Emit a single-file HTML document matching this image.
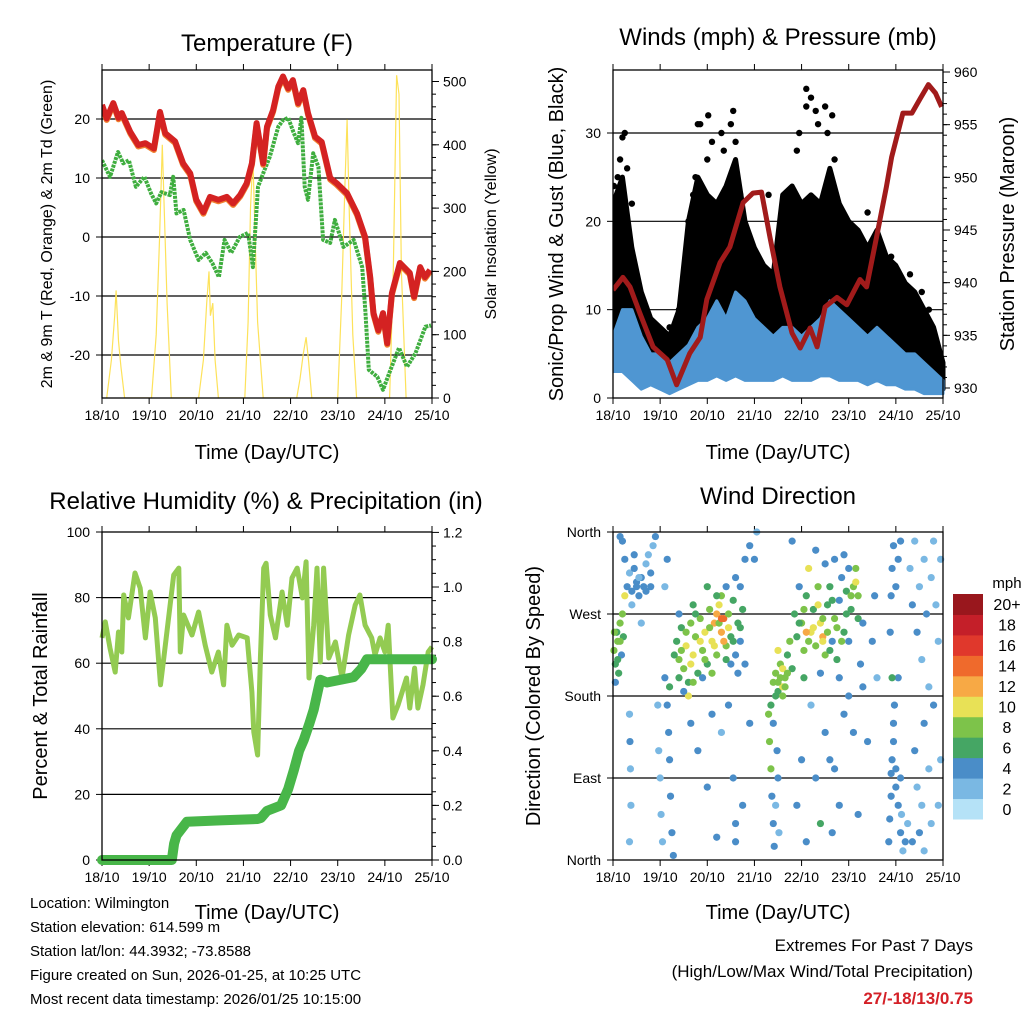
<!DOCTYPE html>
<html><head><meta charset="utf-8"><style>
body{margin:0;background:#fff;}
svg{display:block;font-family:"Liberation Sans",Arial,sans-serif;}
</style></head><body>
<svg id="s" width="1024" height="1024" viewBox="0 0 1024 1024" xmlns="http://www.w3.org/2000/svg">
<text x="267" y="51" font-size="24" text-anchor="middle">Temperature (F)</text>
<text x="778" y="45" font-size="24" text-anchor="middle">Winds (mph) &amp; Pressure (mb)</text>
<text x="266" y="509" font-size="24" text-anchor="middle">Relative Humidity (%) &amp; Precipitation (in)</text>
<text x="778" y="504" font-size="24" text-anchor="middle">Wind Direction</text>
<text x="267" y="459" font-size="20" text-anchor="middle">Time (Day/UTC)</text>
<text x="778" y="459" font-size="20" text-anchor="middle">Time (Day/UTC)</text>
<text x="267" y="919" font-size="20" text-anchor="middle">Time (Day/UTC)</text>
<text x="778" y="919" font-size="20" text-anchor="middle">Time (Day/UTC)</text>
<text transform="translate(52,234) rotate(-90)" font-size="16" text-anchor="middle">2m &amp; 9m T (Red, Orange) &amp; 2m Td (Green)</text>
<text transform="translate(496,234) rotate(-90)" font-size="16" text-anchor="middle">Solar Insolation (Yellow)</text>
<text transform="translate(563,234) rotate(-90)" font-size="20" text-anchor="middle">Sonic/Prop Wind &amp; Gust (Blue, Black)</text>
<text transform="translate(1014,234) rotate(-90)" font-size="20" text-anchor="middle">Station Pressure (Maroon)</text>
<text transform="translate(47,696) rotate(-90)" font-size="20" text-anchor="middle">Percent &amp; Total Rainfall</text>
<text transform="translate(540,696) rotate(-90)" font-size="20" text-anchor="middle">Direction (Colored By Speed)</text>
<g font-size="15">
<text x="30" y="908">Location: Wilmington</text>
<text x="30" y="932">Station elevation: 614.599 m</text>
<text x="30" y="956">Station lat/lon: 44.3932; -73.8588</text>
<text x="30" y="980">Figure created on Sun, 2026-01-25, at 10:25 UTC</text>
<text x="30" y="1004">Most recent data timestamp: 2026/01/25 10:15:00</text>
</g>
<g font-size="17" text-anchor="end">
<text x="973" y="951">Extremes For Past 7 Days</text>
<text x="973" y="977">(High/Low/Max Wind/Total Precipitation)</text>
<text x="973" y="1004" fill="#d42027" font-weight="bold">27/-18/13/0.75</text>
</g>
</svg>
<script>
// ---------- DATA ----------
const dayLabels=["18/10","19/10","20/10","21/10","22/10","23/10","24/10","25/10"];
const tempT=[0,0.1,0.24,0.35,0.42,0.6,0.77,0.92,1.1,1.23,1.34,1.55,1.72,1.87,2.0,2.15,2.29,2.47,2.65,2.78,2.93,3.07,3.18,3.28,3.42,3.5,3.63,3.74,3.84,3.95,4.05,4.16,4.27,4.37,4.52,4.66,4.84,4.98,5.2,5.41,5.58,5.69,5.76,5.86,5.96,6.05,6.15,6.32,6.53,6.62,6.75,6.85,6.96];
const tempV=[22.4,20.1,22.7,20.2,21,17.8,15.6,15.9,15,21.2,17.6,16.2,12.5,10.8,6.3,4.2,6.8,6.3,6.8,5.7,7.1,9.1,12.5,19.3,12.5,18.7,21.5,25.5,27.2,25.2,26.6,22.7,24.9,21,17,16.1,10,9.1,7.4,4,0,-6.8,-12.9,-15.8,-12.9,-18,-9.5,-4.4,-6.1,-10.1,-5.1,-6.8,-5.6];
const dewT=[0,0.17,0.34,0.45,0.57,0.72,0.9,1.04,1.15,1.26,1.44,1.51,1.58,1.73,1.87,2.05,2.2,2.34,2.48,2.6,2.74,2.92,3.1,3.2,3.31,3.45,3.56,3.74,3.84,3.95,4.06,4.16,4.23,4.3,4.37,4.48,4.59,4.69,4.84,4.94,5.12,5.34,5.52,5.59,5.66,5.84,5.96,6.12,6.3,6.47,6.65,6.86,6.98];
const dewV=[13,10.2,14.4,12.5,13,8.5,10.2,7.4,5.7,7.6,7.1,10.2,4,4.6,-0.5,-3.9,-2.7,-4.4,-6.8,-0.5,-2.7,0,0.7,-5.1,8.5,11.4,13.6,18.7,19.8,20.2,17.8,15.9,20.2,8.5,6.3,14.2,11.9,-0.5,-1,2.9,-1.7,-0.5,-5.1,-12.9,-22.5,-23.7,-25.9,-22.5,-18.8,-22,-19.7,-15.2,-15];
const solarT=[0.1,0.2,0.27,0.3,0.35,0.4,0.48, 1.05,1.15,1.22,1.28,1.32,1.38,1.47, 2.05,2.15,2.22,2.27,2.3,2.35,2.4,2.47, 3.03,3.1,3.15,3.2,3.25,3.3,3.42, 4.13,4.2,4.27,4.33,4.38,4.45, 5.0,5.08,5.15,5.2,5.25,5.32,5.4, 6.1,6.18,6.25,6.3,6.35,6.45];
const solarV=[0,60,130,170,90,50,0, 0,100,250,400,300,150,0, 0,60,150,200,130,150,60,0, 0,120,300,380,250,120,0, 0,30,70,96,60,0, 0,150,330,440,280,100,0, 0,200,510,480,200,0];
const windT=[0,0.2,0.4,0.6,0.8,1.0,1.2,1.4,1.6,1.8,2.0,2.2,2.4,2.6,2.8,3.0,3.2,3.4,3.6,3.8,4.0,4.2,4.4,4.6,4.8,5.0,5.2,5.4,5.6,5.8,6.0,6.2,6.4,6.6,6.8,7.0];
const windHigh=[7,10,10,7,5,5,4,5,6,8,9,11,9,12,11,9,8,7,8,8,7,8,9,11,10,9,8,7,8,7,6,5,5,4,3,2];
const windLow=[3,3,2,1,1.5,1,0.5,1,1.5,2,2,2.5,2,2.5,2,2,2,2,2.5,2,2,2,2.5,2.5,2,2,2,1.5,2,1.5,1.5,1,1,0.5,0.5,0.5];
const gustHigh=[22,25,17,12,9,8,7,10,20,25,23,22,24,27,20,17,15,14,23,24,22,23,22,26,22,20,19,17,19,16,15,13,12,10,8,4];
const gustDotT=[0.05,0.1,0.15,0.2,0.25,0.3,1.2,1.4,1.45,1.7,1.75,1.8,1.85,2.0,2.1,2.3,2.35,2.5,2.55,2.6,2.7,3.3,3.9,4.1,4.1,4.2,4.3,4.35,4.5,4.65,4.7,5.4,5.6,5.9,6.3,6.55,6.7,0.02,0.4,1.6,2.02,3.95,4.55];
const gustDotV=[20,25,27,29.5,30,26,8,10,11,23,25,31,31,27,29,30,28,31,32.5,29,23,23,28,35,33,34,32.5,31,33,32,27,21,18,16,14,12,10,24,22,20,32,30,30];
const presT=[0,0.21,0.36,0.57,0.85,1.15,1.35,1.63,1.85,1.99,2.27,2.48,2.76,2.97,3.15,3.33,3.54,3.8,3.97,4.18,4.33,4.5,4.75,4.96,5.24,5.38,5.59,5.8,5.91,6.15,6.34,6.52,6.69,6.84,6.97];
const presV=[939.3,940.5,939.6,937.1,933.9,932.7,930.3,933.3,934.8,938.4,941.9,943.4,947.6,948.5,948.6,944.3,939.6,935.2,933.8,935.7,933.9,937.7,938.6,937.9,940.3,939.6,944.3,949.1,951.9,956.1,956.1,957.5,958.8,958,956.7];
const rhT=[0,0.07,0.17,0.28,0.35,0.42,0.46,0.56,0.7,0.81,0.92,1.02,1.13,1.24,1.31,1.52,1.63,1.66,1.73,1.91,2.05,2.19,2.33,2.47,2.58,2.65,2.76,2.9,3.08,3.18,3.22,3.3,3.36,3.43,3.48,3.57,3.68,3.82,3.93,4.03,4.14,4.25,4.33,4.39,4.49,4.56,4.63,4.7,4.81,4.95,5.09,5.23,5.37,5.47,5.58,5.72,5.79,5.9,6.0,6.07,6.17,6.28,6.46,6.53,6.63,6.7,6.81,6.92,7.0];
const rhV=[67.7,72.6,64.6,57.3,69.5,63.4,80.8,73.8,87.5,82.9,67.7,81.7,73.8,53.4,61.6,86.9,89,63.4,74.7,68.6,75.6,65.5,57.3,63.4,53.4,71.6,65.5,68.6,67.7,51.2,39,32,61.6,89,90.5,74.7,67.7,81.7,71.6,86,89,79.9,90.9,55.5,71.6,89,60.4,89,61.6,66.5,55.5,68.6,77.7,80.8,71.6,67.7,62.5,67.7,63.4,71.6,43.3,47.3,55.5,46.3,58.5,46.3,53.4,63.4,65];
const rainT=[0,1.48,1.53,1.58,1.8,2.5,3.3,3.37,3.5,3.8,3.95,4.07,4.18,4.28,4.4,4.49,4.63,4.77,5.34,5.5,5.62,7.0];
const rainV=[0,0,0.06,0.09,0.14,0.145,0.15,0.154,0.18,0.2,0.26,0.33,0.4,0.44,0.5,0.55,0.66,0.65,0.67,0.7,0.735,0.735];
const dirT=[0.02,0.05,0.08,0.1,0.12,0.15,0.18,0.2,0.22,0.25,0.05,0.3,0.35,0.4,0.45,0.5,0.55,0.6,0.65,0.7,0.75,0.8,0.85,0.9,0.4,0.6,0.25,0.2,0.15,0.35,0.36,0.37,0.38,0.35,0.95,0.97,1.0,1.02,1.05,1.1,1.15,1.18,1.2,1.22,1.25,1.28,1.2,1.15,1.1,1.35,1.4,1.45,1.5,1.55,1.6,1.65,1.7,1.75,1.8,1.85,1.9,1.95,2.0,2.05,2.1,2.15,2.2,2.25,2.3,2.35,2.4,2.45,2.5,2.55,2.6,2.65,2.7,2.75,2.8,1.6,1.5,2.0,2.3,2.4,2.6,1.4,1.7,2.2,1.9,2.5,2.65,1.65,1.8,2.0,2.1,2.3,2.45,2.55,2.6,2.7,2.8,2.9,3.0,2.9,3.05,2.75,2.6,2.2,3.3,3.32,3.35,3.37,3.4,3.42,3.45,3.48,3.5,3.52,3.35,3.4,3.4,3.45,3.5,3.55,3.6,3.65,3.7,3.75,3.5,3.8,3.45,3.6,3.85,3.9,3.95,4.0,4.05,4.1,4.15,4.2,4.25,4.3,4.35,4.4,4.45,4.5,4.55,4.6,4.65,4.7,4.75,4.8,4.85,4.9,4.95,5.0,5.05,5.1,5.15,5.2,4.5,4.7,4.9,5.0,4.3,4.05,4.4,4.8,5.25,5.3,3.8,3.9,4.0,4.2,4.3,4.4,4.5,4.6,4.7,4.8,4.9,5.0,5.1,5.2,5.3,5.4,5.5,5.6,5.55,4.1,4.65,5.85,5.87,5.9,5.9,5.92,5.95,5.95,5.97,6.0,6.05,6.1,6.15,5.88,5.9,5.92,5.95,6.0,6.05,6.1,6.05,5.92,6.0,6.1,6.12,6.2,6.25,6.3,6.35,6.4,6.45,6.5,6.55,6.6,6.65,6.7,6.75,6.8,6.85,6.9,6.95,6.4,6.45,6.5,6.55,6.6,6.7,6.75,6.8,6.9,6.95,6.35,6.6,
1.45,1.55,1.65,1.75,1.85,1.95,2.05,2.15,2.25,2.35,2.45,2.55,1.4,1.7,2.1,2.4,1.3,2.7,2.2,2.3,
3.95,4.05,4.15,4.25,4.35,4.45,4.55,4.65,4.75,4.85,4.95,5.05,5.15,5.2,4.1,4.45,4.6,3.55,3.6,3.65,3.5,3.7,
0.03,0.1,0.15,0.5,0.55,0.7,0.8,0.45];
const dirDeg=[230,215,250,240,205,260,225,270,245,290,195,300,315,295,320,305,290,310,300,325,335,315,345,355,280,260,330,350,355,160,130,100,60,20,170,120,90,50,20,200,170,140,110,70,30,5,190,330,300,240,220,255,210,235,195,260,225,245,205,265,230,250,215,275,240,260,225,280,250,265,235,270,245,285,225,260,240,275,215,180,185,300,290,300,310,270,280,290,200,215,205,150,120,80,160,140,170,90,40,300,330,345,330,150,360,60,20,25,160,130,100,70,40,15,60,120,90,30,170,150,195,205,185,215,190,200,225,240,230,210,180,180,270,245,300,260,230,290,320,250,275,235,300,260,245,225,280,300,240,265,220,285,310,250,295,240,275,300,320,265,325,330,335,320,340,200,205,200,215,260,350,60,110,170,90,40,140,110,100,60,160,180,140,50,190,130,240,200,290,20,30,20,45,70,95,110,130,150,170,100,60,30,10,250,290,320,345,300,330,350,200,200,80,90,50,20,40,320,280,350,250,300,220,330,270,190,310,350,280,240,330,120,80,30,60,150,100,40,170,60,110,20,10,
230,250,215,270,240,220,255,235,260,240,255,240,200,195,205,220,225,255,270,265,
260,275,240,255,280,265,250,285,255,240,270,290,305,290,250,240,230,200,210,190,195,205,
250,220,240,300,310,295,300,335];
const dirSpd=[7,6,5,8,6,7,4,8,6,9,4,3,2,3,4,3,4,3,4,2,2,3,2,3,2,1,3,4,3,2,3,2,2,1,2,1,2,2,1,3,4,4,3,4,3,4,6,3,2,6,7,6,8,9,6,8,10,7,6,8,7,9,6,8,10,12,7,9,11,13,8,7,6,5,4,6,4,5,4,10,4,5,7,4,4,4,5,5,4,4,3,3,4,3,4,2,4,4,4,4,4,4,3,4,2,4,4,3,7,7,7,3,4,3,2,4,3,2,6,4,8,7,6,8,9,7,6,8,10,6,6,7,6,5,4,7,8,6,10,9,6,8,7,10,11,7,6,5,4,7,6,4,4,6,5,4,6,8,7,6,3,4,4,4,3,6,4,4,4,3,3,3,4,2,4,6,3,4,4,3,4,4,3,3,3,3,3,2,3,3,4,4,4,4,4,4,4,4,4,3,3,3,2,4,4,4,3,4,3,3,4,6,4,3,2,3,2,2,3,2,3,2,2,2,3,2,1,1,1,1,1,3,2,3,2,3,2,2,3,2,1,3,2,
8,7,9,6,10,8,7,9,8,12,9,6,6,8,7,6,6,6,12,14,
6,7,8,10,9,8,7,6,8,7,6,8,9,8,11,10,6,8,9,8,7,8,
7,6,8,4,2,3,4,3];
const speedColors=["#b5e2f7","#7ab8e3","#4a8dc8","#45a664","#7dc34a","#e8e156","#f7a945","#ef6a2c","#e0382c","#c41f29","#99171d"];
const speedLabels=["0","2","4","6","8","10","12","14","16","18","20+"];
const tempTicks=[-20,-10,0,10,20];
const solarTicks=[0,100,200,300,400,500];
const windTicks=[0,10,20,30];
const presTicks=[930,935,940,945,950,955,960];
const rhTicks=[0,20,40,60,80,100];
const rainTicks=[0,0.2,0.4,0.6,0.8,1.0,1.2];
const dirTicks=[0,90,180,270,360];
const dirNames=["North","East","South","West","North"];

// ---------- DRAWING ----------
const NS="http://www.w3.org/2000/svg";
const svg=document.getElementById('s');
function el(tag,attrs,parent){const e=document.createElementNS(NS,tag);for(const k in attrs)e.setAttribute(k,attrs[k]);(parent||svg).appendChild(e);return e;}
function lin(d0,d1,r0,r1){return v=>r0+(v-d0)/(d1-d0)*(r1-r0);}
function pathFrom(xs,ys,fx,fy){return xs.map((t,i)=>(i?'L':'M')+fx(t).toFixed(1)+','+fy(ys[i]).toFixed(1)).join('');}

function panel(name,L,T,R,B,xs,yl,yr,ylTicks,ylLab,yrTicks,yrLab,gridVals,yrMinor){
  const g=el('g',{});
  
  
  gridVals.forEach(v=>{const y=yl(v);const l=el('line',{x1:L,x2:R,y1:y,y2:y,stroke:'#000','stroke-width':1.2},g);
    
    });
  for(let d=0;d<=7;d++){const x=xs(d);
    el('line',{x1:x,x2:x,y1:B,y2:B+6,stroke:'#000'},g);el('line',{x1:x,x2:x,y1:T,y2:T-6,stroke:'#000'},g);
    const t=el('text',{x:x,y:B+22,'font-size':14,'text-anchor':'middle'},g);t.textContent=dayLabels[d];
    
    }
  ylTicks.forEach((v,i)=>{const y=yl(v);el('line',{x1:L-6,x2:L,y1:y,y2:y,stroke:'#000'},g);
    const t=el('text',{x:L-12,y:y+5,'font-size':14,'text-anchor':'end'},g);t.textContent=ylLab[i];
    
    });
  if(yr){yrTicks.forEach((v,i)=>{const y=yr(v);el('line',{x1:R,x2:R+7,y1:y,y2:y,stroke:'#000'},g);
    const t=el('text',{x:R+11,y:y+5,'font-size':14},g);t.textContent=yrLab[i];
    
    });
    if(yrMinor)yrMinor.forEach(v=>{const y=yr(v);el('line',{x1:R,x2:R+4,y1:y,y2:y,stroke:'#000'},g);});}
  return g;
}
function frame(L,T,R,B,name){const r=el('rect',{x:L,y:T,width:R-L,height:B-T,fill:'none',stroke:'#000','stroke-width':1.3});
  
  }

// Panel 1: Temperature
{const L=102,T=70,R=432,B=398;const xs=lin(0,7,L,R),yt=lin(0,20,237,119),ys=lin(0,500,398,81.5);
 const minor=[];for(let v=0;v<=500;v+=20)minor.push(v);
 panel('temp',L,T,R,B,xs,yt,ys,tempTicks,tempTicks.map(String),solarTicks,solarTicks.map(String),tempTicks,minor);
 const cp=el('clipPath',{id:'c1'});el('rect',{x:L,y:T,width:R-L,height:B-T},cp);
 const g=el('g',{'clip-path':'url(#c1)'});
 const sol=el('path',{d:pathFrom(solarT,solarV,xs,ys),fill:'none',stroke:'#fde25a','stroke-width':1.2},g);
 
 
 const dw=el('path',{d:pathFrom(dewT,dewV,xs,yt),fill:'none',stroke:'#3fae3f','stroke-width':4,'stroke-dasharray':'3 1','stroke-linejoin':'round'},g);
 
 
 const or=el('path',{d:pathFrom(tempT,tempV,xs,v=>yt(v)+1.5),fill:'none',stroke:'#f08030','stroke-width':6,'stroke-linejoin':'round'},g);
 
 
 const rd=el('path',{d:pathFrom(tempT,tempV,xs,yt),fill:'none',stroke:'#d42222','stroke-width':6,'stroke-linejoin':'round'},g);
 
 
 frame(L,T,R,B,'temp');}

// Panel 2: Winds
{const L=613,T=70,R=943,B=398;const xs=lin(0,7,L,R),yw=lin(0,30,398,133),yp=lin(930,960,388,72);
 const minor=[];for(let v=930;v<=960;v+=1)minor.push(v);
 panel('winds',L,T,R,B,xs,yw,yp,windTicks,windTicks.map(String),presTicks,presTicks.map(String),[10,20,30],minor);
 const cp=el('clipPath',{id:'c2'});el('rect',{x:L,y:T-5,width:R-L+5,height:B-T+5},cp);
 const g=el('g',{'clip-path':'url(#c2)'});
 const gb='M'+windT.map((t,i)=>xs(t)+','+yw(gustHigh[i])).join('L')+'L'+windT.slice().reverse().map((t,j)=>xs(t)+','+yw(windHigh[windT.length-1-j]-1)).join('L')+'Z';
 const gp=el('path',{d:gb,fill:'#000',stroke:'#000','stroke-width':5,'stroke-linejoin':'round'},g);
 
 
 gustDotT.forEach((t,i)=>{const c=el('circle',{cx:xs(t),cy:yw(gustDotV[i]),r:3.2,fill:'#000'},g);
   
   });
 const wb='M'+windT.map((t,i)=>xs(t)+','+yw(windHigh[i])).join('L')+'L'+windT.slice().reverse().map((t,j)=>xs(t)+','+yw(windLow[windT.length-1-j])).join('L')+'Z';
 const wp=el('path',{d:wb,fill:'#4f96d2',stroke:'#4f96d2','stroke-width':3,'stroke-linejoin':'round'},g);
 
 
 const pl=el('path',{d:pathFrom(presT,presV,xs,yp),fill:'none',stroke:'#a11b1b','stroke-width':5,'stroke-linejoin':'round'},g);
 
 
 frame(L,T,R,B,'winds');}

// Panel 3: RH & precipitation
{const L=102,T=532,R=432,B=860;const xs=lin(0,7,L,R),yh=lin(0,100,860,532),yr=lin(0,1.2,860,532.4);
 const minor=[];for(let v=0;v<=1.2;v+=0.05)minor.push(v);
 panel('humidity',L,T,R,B,xs,yh,yr,rhTicks,rhTicks.map(String),rainTicks,rainTicks.map(v=>v.toFixed(1)),[20,40,60,80],minor);
 const cp=el('clipPath',{id:'c3'});el('rect',{x:L-6,y:T,width:R-L+12,height:B-T+6},cp);
 const g=el('g',{'clip-path':'url(#c3)'});
 const rh=el('path',{d:pathFrom(rhT,rhV,xs,yh),fill:'none',stroke:'#93cb52','stroke-width':5,'stroke-linejoin':'round'},g);
 
 
 const rn=el('path',{d:pathFrom(rainT,rainV,xs,yr),fill:'none',stroke:'#48b649','stroke-width':10,'stroke-linejoin':'round','stroke-linecap':'round'},g);
 
 
 frame(L,T,R,B,'humidity');}

// Panel 4: Wind direction
{const L=613,T=532,R=943,B=860;const xs=lin(0,7,L,R),yd=lin(0,360,860,532);
 panel('direction',L,T,R,B,xs,yd,null,dirTicks,dirNames,[],[],[90,180,270]);
 const g=el('g',{});
 dirT.forEach((t,i)=>{const s=dirSpd[i];const ci=Math.min(10,Math.round(s/2));
   const c=el('circle',{cx:xs(t),cy:yd(dirDeg[i]),r:3.6,fill:speedColors[ci]},g);
   
   });
 frame(L,T,R,B,'direction');
 const lg=el('g',{});
 
 
 const bh=(819-594)/11;
 speedColors.forEach((c,i)=>{const y=819-(i+1)*bh;el('rect',{x:953,y:y,width:30,height:bh+0.5,fill:c},lg);
   const t=el('text',{x:1007,y:y+bh/2+6,'font-size':16,'text-anchor':'middle'},lg);t.textContent=speedLabels[i];
   
   });
 const m=el('text',{x:1007,y:588,'font-size':15,'text-anchor':'middle'},lg);m.textContent='mph';
 
 }
</script>
</body></html>
